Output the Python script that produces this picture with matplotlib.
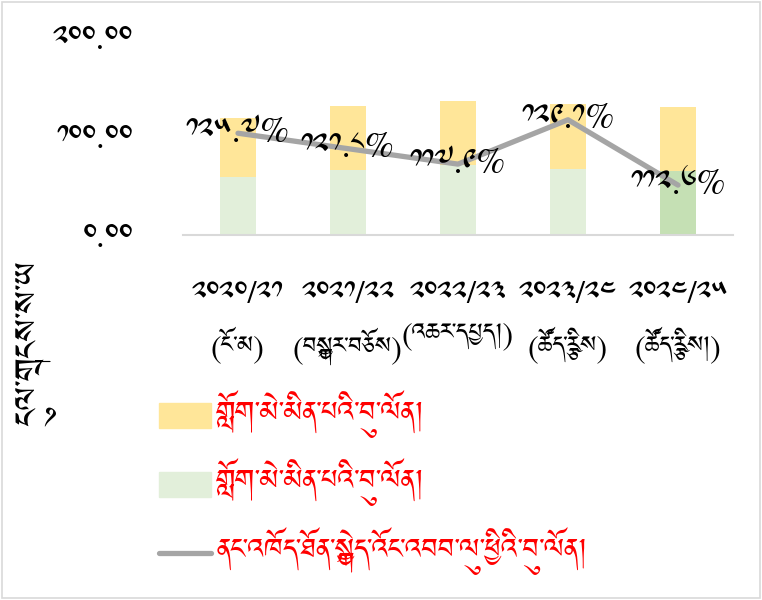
import os
import matplotlib
matplotlib.use('Agg')
import matplotlib.pyplot as plt
from matplotlib import font_manager
from matplotlib.patches import Patch, Rectangle
from matplotlib.lines import Line2D

# Tibetan font (Jomolhari) is on the box but register it just in case
for p in ['/usr/share/fonts/truetype/google-fonts/Jomolhari-Regular.ttf',
          '/usr/share/fonts/truetype/google-fonts/NotoSerifTibetan[wght].ttf']:
    if os.path.exists(p):
        font_manager.fontManager.addfont(p)
plt.rcParams['font.family'] = ['Jomolhari', 'Noto Serif Tibetan', 'DejaVu Sans']

# ── data ────────────────────────────────────────────────────────────────
years = ['༢༠༢༠/༢༡', '༢༠༢༡/༢༢', '༢༠༢༢/༢༣', '༢༠༢༣/༢༤', '༢༠༢༤/༢༥']
status = ['(ངོ་མ)', '(བསྐྱར་བཅོས)', '(འཆར་དཔྱད།)', '(ཚོད་རྩིས)', '(ཚོད་རྩིས།)']
green_vals = [58.5, 65.7, 70.5, 66.7, 64.6]     # lower stack
yellow_vals = [59.7, 64.6, 64.9, 65.6, 64.3]    # upper stack
ratio_vals = [125.7, 121.8, 117.9, 129.1, 112.6]  # line, % (secondary axis)
ratio_labels = ['༡༢༥.༧%', '༡༢༡.༨%', '༡༡༧.༩%', '༡༢༩.༡%', '༡༡༢.༦%']
yticks = [0, 100, 200]
ytick_labels = ['༠.༠༠', '༡༠༠.༠༠', '༢༠༠.༠༠']
legend_text = ['གློག་མེ་མིན་པའི་བུ་ལོན།',
               'གློག་མེ་མིན་པའི་བུ་ལོན།',
               'ནང་འཁོད་ཐོན་སྐྱེད་འོང་འབབ་ལུ་ཕྱིའི་བུ་ལོན།']
ylabel = 'ངུལ་གྲངས་ས་ཡ'

YELLOW = '#FFE699'
GREEN = '#E2EFDA'
GREEN_HI = '#C5E0B4'
GRAY = '#A5A5A5'

fig = plt.figure(figsize=(7.62, 6.0), dpi=100)
ax = fig.add_axes([183 / 762, 1 - 235 / 600, 550 / 762, 198 / 600])

x = list(range(len(years)))
green_cols = [GREEN] * 4 + [GREEN_HI]
ax.bar(x, green_vals, width=0.32, color=green_cols, zorder=2)
ax.bar(x, yellow_vals, width=0.32, bottom=green_vals, color=YELLOW, zorder=2)

ax.set_xlim(-0.5, len(years) - 0.5)
ax.set_ylim(0, 200)
ax.set_yticks(yticks)
ax.set_yticklabels(ytick_labels, fontsize=22)
ax.set_xticks(x)
ax.set_xticklabels([f'{a}\n{b}' for a, b in zip(years, status)],
                   fontsize=21, linespacing=1.6)
ax.tick_params(axis='both', length=0)
ax.tick_params(axis='x', pad=33)
ax.tick_params(axis='y', pad=36)
for s in ['top', 'right', 'left']:
    ax.spines[s].set_visible(False)
ax.spines['bottom'].set_color('#D9D9D9')
ax.spines['bottom'].set_linewidth(1.5)

# line on hidden secondary axis
ax2 = ax.twinx()
ax2.set_ylim(100, 150)
ax2.axis('off')
ax2.plot(x, ratio_vals, color=GRAY, lw=3.8, solid_capstyle='round', zorder=3)
for xi, v, lab in zip(x, ratio_vals, ratio_labels):
    ax2.text(xi, v, lab, ha='center', va='center', fontsize=23, zorder=4)

fig.text(37 / 762, 1 - 344 / 600, ylabel, rotation=90, ha='center',
         va='center', fontsize=29, fontweight='bold')

# legend below the plot
handles = [Patch(color=YELLOW), Patch(color=GREEN),
           Line2D([0], [0], color=GRAY, lw=3.8, solid_capstyle='round')]
fig.legend(handles, legend_text, loc='upper left',
           bbox_to_anchor=(159 / 762, 1 - 390 / 600), frameon=False,
           borderpad=0, borderaxespad=0,
           fontsize=25, labelcolor='#FF0000', handlelength=1.5,
           handleheight=0.72, labelspacing=0.6, handletextpad=0.15)

fig.add_artist(Rectangle((0.002, 0.003), 0.996, 0.994, transform=fig.transFigure,
                         fill=False, edgecolor='#D9D9D9', lw=1.2))

fig.savefig('out.png', dpi=100)
